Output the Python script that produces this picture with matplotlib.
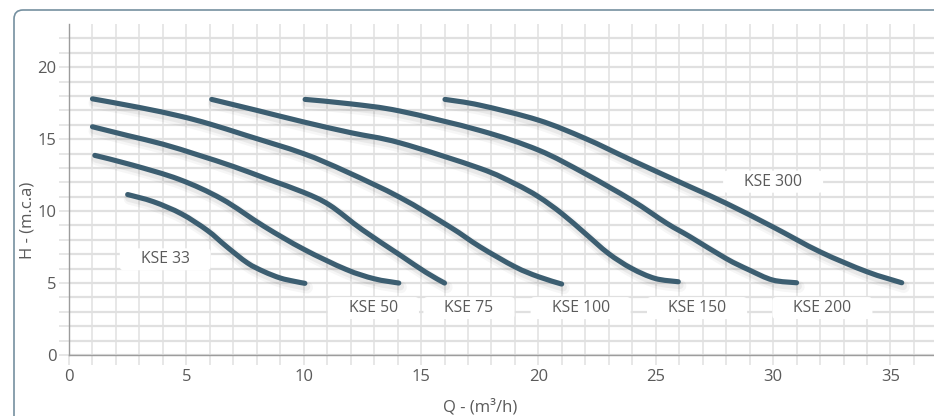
import matplotlib
matplotlib.use("Agg")
import matplotlib.pyplot as plt
import matplotlib.patheffects as pe
from matplotlib.patches import FancyBboxPatch, PathPatch
from matplotlib.path import Path
from matplotlib.transforms import IdentityTransform

plt.rcParams['font.family'] = ['Open Sans', 'DejaVu Sans']

# ---- data ----
kse33_q = [2.5, 3.6, 4.8, 5.9, 6.7, 7.6, 8.3, 9.0, 9.6, 10.05]
kse33_h = [11.15, 10.65, 9.8, 8.65, 7.55, 6.4, 5.8, 5.35, 5.12, 4.98]

kse50_q = [1.1, 2.7, 4.7, 6.5, 8.3, 10.0, 11.8, 13.0, 14.05]
kse50_h = [13.87, 13.2, 12.2, 10.85, 8.95, 7.35, 5.95, 5.3, 5.0]

kse75_q = [1.0, 2.5, 4.0, 5.5, 7.0, 8.5, 10.0, 11.1, 12.5, 14.1, 15.2, 16.0]
kse75_h = [15.86, 15.25, 14.65, 13.9, 13.1, 12.2, 11.3, 10.42, 8.7, 6.95, 5.75, 5.0]

kse100_q = [1.0, 3.0, 4.73, 6.0, 7.57, 9.98, 11.83, 14.1, 16.23, 17.51, 19.0, 20.0, 20.99]
kse100_h = [17.8, 17.2, 16.6, 16.05, 15.25, 14.0, 12.73, 10.95, 8.9, 7.52, 6.13, 5.44, 4.93]

kse150_q = [6.08, 8.0, 9.98, 12.0, 14.1, 17.51, 19.0, 20.0, 20.99, 21.99, 22.98, 23.97, 24.97, 25.96]
kse150_h = [17.76, 17.0, 16.2, 15.45, 14.74, 12.97, 11.9, 11.0, 9.84, 8.45, 7.06, 6.02, 5.32, 5.09]

kse200_q = [10.06, 12.0, 14.1, 17.51, 20.0, 21.99, 23.97, 25.47, 26.46, 27.99, 28.99, 29.98, 31.0]
kse200_h = [17.76, 17.45, 16.95, 15.6, 14.24, 12.6, 10.76, 9.15, 8.22, 6.71, 5.9, 5.21, 5.02]

kse300_q = [16.02, 17.51, 20.0, 21.99, 23.97, 26.46, 27.99, 29.98, 32.0, 33.99, 35.48]
kse300_h = [17.76, 17.36, 16.32, 15.05, 13.54, 11.69, 10.55, 8.91, 7.17, 5.79, 5.02]

series_names = ["KSE 33", "KSE 50", "KSE 75", "KSE 100", "KSE 150", "KSE 200", "KSE 300"]
series_q = [kse33_q, kse50_q, kse75_q, kse100_q, kse150_q, kse200_q, kse300_q]
series_h = [kse33_h, kse50_h, kse75_h, kse100_h, kse150_h, kse200_h, kse300_h]

x_major = [0, 5, 10, 15, 20, 25, 30, 35]
y_major = [0, 5, 10, 15, 20]

# ---- layout / style ----
label_xy = [(4.1, 6.65), (12.97, 3.26), (17.04, 3.26), (21.8, 3.26),
            (26.76, 3.26), (32.1, 3.26), (30.0, 12.04)]

W, H = 934, 416
line_color = '#3c5e71'
grid_color = '#e0e0e0'
text_color = '#5a5a5a'


def smooth_path(xs, ys):
    """Smooth line through the data points, drawn as cubic Bezier segments."""
    pts = list(zip(xs, ys))
    n = len(pts)
    verts = [pts[0]]
    codes = [Path.MOVETO]
    for i in range(n - 1):
        p0 = pts[i - 1] if i > 0 else pts[i]
        p1 = pts[i]
        p2 = pts[i + 1]
        p3 = pts[i + 2] if i + 2 < n else pts[i + 1]
        c1 = (p1[0] + (p2[0] - p0[0]) / 6.0, p1[1] + (p2[1] - p0[1]) / 6.0)
        c2 = (p2[0] - (p3[0] - p1[0]) / 6.0, p2[1] - (p3[1] - p1[1]) / 6.0)
        verts += [c1, c2, p2]
        codes += [Path.CURVE4, Path.CURVE4, Path.CURVE4]
    return Path(verts, codes)


fig = plt.figure(figsize=(W / 100, H / 100), dpi=100)
fig.patch.set_facecolor('white')

# outer rounded frame
frame = FancyBboxPatch((14, -30), 980, H - 10 + 30,
                       boxstyle='round,pad=0,rounding_size=9',
                       transform=IdentityTransform(), facecolor='none',
                       edgecolor='#7590a0', linewidth=1.2)
fig.add_artist(frame)

ax_left, ax_bottom = 69 / W, (H - 355) / H
ax_w, ax_h = (W - 69) / W, (355 - 24) / H
ax = fig.add_axes([ax_left, ax_bottom, ax_w, ax_h])
ax.set_xlim(0, (W - 69) / 23.47)
ax.set_ylim(0, 23)

ax.set_xticks(x_major)
ax.set_xticks(range(0, 37), minor=True)
ax.set_yticks(y_major)
ax.set_yticks(range(0, 23), minor=True)
ax.set_xticklabels([str(v) for v in x_major])
ax.set_yticklabels([str(v) for v in y_major])

ax.grid(True, axis='x', which='both', color=grid_color, linewidth=1.1, zorder=0)
ax.grid(True, axis='y', which='both', color=grid_color, linewidth=1.6, zorder=0)
ax.set_axisbelow(True)

for which in ('major', 'minor'):
    ax.tick_params(axis='both', which=which, length=7, width=1.1,
                   color=grid_color, labelcolor=text_color, labelsize=12)
ax.tick_params(axis='x', which='major', pad=3)
ax.tick_params(axis='y', which='major', pad=2)

for s in ('top', 'right'):
    ax.spines[s].set_visible(False)
for s in ('left', 'bottom'):
    ax.spines[s].set_color('#9c9c9c')
    ax.spines[s].set_linewidth(1.0)
    ax.spines[s].set_zorder(1.5)

lw = 3.7
effects = [pe.SimpleLineShadow(offset=(1.5, -3), shadow_color='black', alpha=0.035, linewidth=lw + 5),
           pe.SimpleLineShadow(offset=(1, -2.5), shadow_color='black', alpha=0.05, linewidth=lw + 2),
           pe.Normal()]
for q, h in zip(series_q, series_h):
    patch = PathPatch(smooth_path(q, h), facecolor='none', edgecolor=line_color,
                      linewidth=lw, capstyle='round', joinstyle='round', zorder=5,
                      path_effects=effects)
    ax.add_patch(patch)

texts = []
for name, (lx, ly) in zip(series_names, label_xy):
    t = ax.text(lx, ly, name, ha='center', va='center', fontsize=11.3,
                color=text_color, zorder=4)
    texts.append(t)

fig.canvas.draw()
renderer = fig.canvas.get_renderer()
for t in texts:
    bb = t.get_window_extent(renderer)
    padx, pady = 21, 3
    box = FancyBboxPatch((bb.x0 - padx, bb.y0 - pady), bb.width + 2 * padx, bb.height + 2 * pady,
                         boxstyle='round,pad=0,rounding_size=4',
                         transform=IdentityTransform(), facecolor='white',
                         edgecolor='none', zorder=3)
    ax.add_artist(box)

fig.text(27 / W, 1 - 220 / H, 'H - (m.c.a)', rotation=90, ha='center', va='center',
         fontsize=12, color=text_color)
fig.text(480 / W, 1 - 407 / H, 'Q - (m³/h)', ha='center', va='center',
         fontsize=12, color=text_color)

fig.savefig('out.png', dpi=100)
